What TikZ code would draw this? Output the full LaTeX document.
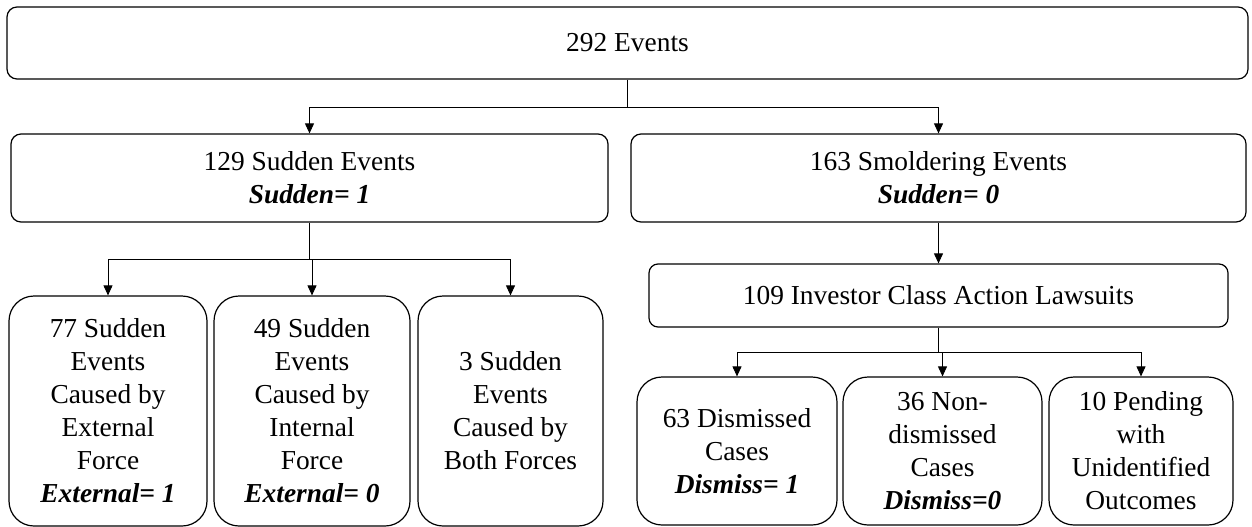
\documentclass[tikz,border=0pt]{standalone}
\usepackage{fontspec}
\setmainfont{Liberation Serif}
\usetikzlibrary{arrows.meta,calc}
\begin{document}
\begin{tikzpicture}[x=1pt,y=1pt,
  box/.style={draw=black,line width=1.2pt,inner sep=0pt,align=center,
    font=\fontsize{27.4}{33}\selectfont},
  smallr/.style={rounded corners=10pt},
  bigr/.style={rounded corners=25pt},
  conn/.style={draw=black,line width=0.9pt},
  arr/.style={conn,-{Triangle[length=10pt,width=9pt]}},
  bi/.style={font=\bfseries\itshape}
]
\useasboundingbox (0,0) rectangle (1252,-527);
% boxes
\node[box,smallr,minimum width=1241,minimum height=72] (top) at (627.5,-43) {292 Events};
\node[box,smallr,minimum width=597,minimum height=88] (sud) at (309.5,-178) {129 Sudden Events\\\textbf{\textit{Sudden= 1}}};
\node[box,smallr,minimum width=615,minimum height=88] (smo) at (938.5,-178) {163 Smoldering Events\\\textbf{\textit{Sudden= 0}}};
\node[box,bigr,minimum width=198,minimum height=230] (c1) at (108,-411) {77 Sudden\\Events\\Caused by\\External\\Force\\\textbf{\textit{External= 1}}};
\node[box,bigr,minimum width=196,minimum height=230] (c2) at (312,-411) {49 Sudden\\Events\\Caused by\\Internal\\Force\\\textbf{\textit{External= 0}}};
\node[box,bigr,minimum width=185,minimum height=230] (c3) at (510.5,-411) {3 Sudden\\Events\\Caused by\\Both Forces};
\node[box,rounded corners=9pt,minimum width=579,minimum height=63] (inv) at (938.5,-295.5) {109 Investor Class Action Lawsuits};
\node[box,bigr,minimum width=200,minimum height=148] (e1) at (737,-451) {63 Dismissed\\Cases\\\textbf{\textit{Dismiss= 1}}};
\node[box,bigr,minimum width=199,minimum height=148] (e2) at (942.5,-451) {36 Non-\\dismissed\\Cases\\\textbf{\textit{Dismiss=0}}};
\node[box,bigr,minimum width=184,minimum height=148] (e3) at (1141,-451) {10 Pending\\with\\Unidentified\\Outcomes};
% junctions
\coordinate (j1) at ($(top.south)+(0,-28)$);
\coordinate (j2) at ($(sud.south)+(0,-37)$);
\coordinate (j3) at ($(inv.south)+(0,-25)$);
% connectors
\draw[conn] (top.south) -- (j1);
\draw[arr] (j1) -| (sud.north);
\draw[arr] (j1) -| (smo.north);
\draw[conn] (sud.south) -- (j2);
\draw[arr] (j2) -| (c1.north);
\draw[arr] (j2) -| (c2.north);
\draw[arr] (j2) -| (c3.north);
\draw[arr] (smo.south) -- (inv.north);
\draw[conn] (inv.south) -- (j3);
\draw[arr] (j3) -| (e1.north);
\draw[arr] (j3) -| (e2.north);
\draw[arr] (j3) -| (e3.north);
\end{tikzpicture}
\end{document}
